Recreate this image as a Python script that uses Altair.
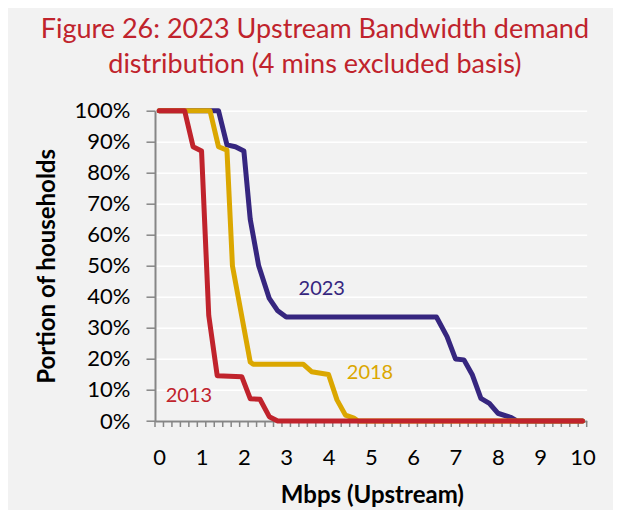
import altair as alt
import pandas as pd

# ---- data (Mbps, % of households) ----
x_2023 = [0, 1.4, 1.6, 1.8, 2.0, 2.15, 2.35, 2.6, 2.8, 3.0, 6.55, 6.8, 7.0, 7.2, 7.4, 7.6, 7.8, 8.0, 8.3, 8.45, 10]
y_2023 = [100, 100, 89, 88.4, 87, 65, 50, 39.5, 35.5, 33.5, 33.5, 27.2, 20, 19.7, 14.8, 7.3, 5.7, 2.5, 1.2, 0, 0]

x_2018 = [0, 1.2, 1.4, 1.6, 1.73, 2.15, 2.22, 3.4, 3.6, 4.0, 4.2, 4.4, 4.6, 4.7, 10]
y_2018 = [100, 100, 88.4, 87.3, 50, 19, 18.3, 18.3, 15.9, 15, 6.8, 1.9, 0.9, 0, 0]

x_2013 = [0, 0.6, 0.8, 1.0, 1.17, 1.37, 1.95, 2.15, 2.38, 2.6, 2.8, 10]
y_2013 = [100, 100, 88.4, 87, 34, 14.6, 14.3, 7.2, 7.0, 1.4, 0, 0]

series_names = ["2023", "2018", "2013"]
series_colors = ["#36267f", "#dba700", "#c0232c"]

label_x = [3.84, 4.98, 0.70]
label_y = [42.7, 15.5, 8.0]

x_tick_labels = [0, 1, 2, 3, 4, 5, 6, 7, 8, 9, 10]
y_tick_values = [0, 0.1, 0.2, 0.3, 0.4, 0.5, 0.6, 0.7, 0.8, 0.9, 1.0]
minor_ticks = [round(-0.1 + 0.2 * k, 2) for k in range(52)]

rows = []
for name, xs, ys in [("2023", x_2023, y_2023), ("2018", x_2018, y_2018), ("2013", x_2013, y_2013)]:
    for i, (a, b) in enumerate(zip(xs, ys)):
        rows.append({"series": name, "mbps": a, "share": b / 100.0, "order": i})
df = pd.DataFrame(rows)

labels_df = pd.DataFrame({"series": series_names, "mbps": label_x, "share": [v / 100.0 for v in label_y]})
minor_df = pd.DataFrame({"mbps": minor_ticks})

W = 431.7
H = 310.3
GRAY = "#868686"
RED = "#c0232c"

xscale = alt.Scale(domain=[-0.1, 10.1], nice=False, zero=False)
yscale = alt.Scale(domain=[0, 1], nice=False)
cscale = alt.Scale(domain=series_names, range=series_colors)

x_axis = alt.Axis(
    values=x_tick_labels, title="Mbps (Upstream)", ticks=False, grid=False,
    labelFont="Lato", labelFontSize=22, labelColor="#000000", labelPadding=26,
    labelFlush=False,
    domainColor=GRAY, domainWidth=2,
    titleFont="Lato", titleFontSize=24, titleFontWeight="bold", titleColor="#000000",
    titleX=W / 2 + 1, titleY=74, titleBaseline="middle", titleAlign="center",
)
y_axis = alt.Axis(
    values=y_tick_values, format=".0%", title="Portion of households",
    grid=True, gridColor="#ffffff", gridWidth=1.6,
    tickSize=9, tickColor=GRAY, tickWidth=1.5,
    labelFont="Lato", labelFontSize=22, labelColor="#000000", labelPadding=16,
    domainColor=GRAY, domainWidth=2,
    titleFont="Lato", titleFontSize=24, titleFontWeight="bold", titleColor="#000000",
    titleX=-108, titleY=H / 2, titleBaseline="middle", titleAngle=270, titleAlign="center",
)

X = alt.X("mbps:Q", scale=xscale, axis=x_axis)
Y = alt.Y("share:Q", scale=yscale, axis=y_axis)

minor = alt.Chart(minor_df).mark_rule(color=GRAY, strokeWidth=1.5).encode(
    x=X, y=alt.value(H), y2=alt.value(H + 6)
)

layers = [minor]
for name in series_names:
    layers.append(
        alt.Chart(df).transform_filter(alt.datum.series == name)
        .mark_line(strokeWidth=5, strokeJoin="round", strokeCap="round")
        .encode(x=X, y=Y, color=alt.Color("series:N", scale=cscale, legend=None),
                order="order:Q")
    )

texts = alt.Chart(labels_df).mark_text(font="Lato", fontSize=20, baseline="middle", align="center").encode(
    x=X, y=Y, text="series:N", color=alt.Color("series:N", scale=cscale, legend=None)
)
layers.append(texts)

chart = alt.layer(*layers).properties(
    width=W, height=H,
    title=alt.TitleParams(
        text=["Figure 26: 2023 Upstream Bandwidth demand", "distribution (4 mins excluded basis)"],
        font="Lato", fontSize=27, fontWeight="normal", color=RED,
        anchor="middle", frame="group", dx=-56, offset=21, lineHeight=35,
    ),
    autosize=alt.AutoSizeParams(type="none"),
    padding={"left": 147, "top": 102.7, "right": 26.3, "bottom": 89},
    background="#f2f2f2",
).configure_view(stroke=None)

chart.save("out.html", embed_options={"renderer": "svg", "actions": False})
